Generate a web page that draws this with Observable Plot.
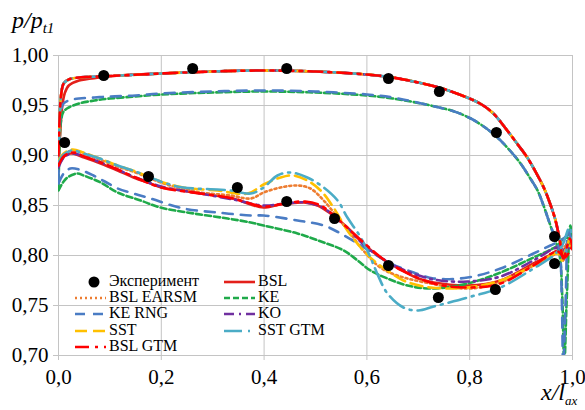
<!DOCTYPE html>
<html><head><meta charset="utf-8">
<script src="https://cdn.jsdelivr.net/npm/d3@7"></script>
<script src="https://cdn.jsdelivr.net/npm/@observablehq/plot@0.6"></script>
<style>
html,body{margin:0;padding:0;background:#fff;}
#wrap{position:relative;width:585px;height:410px;overflow:hidden;font-family:"Liberation Serif","DejaVu Serif",serif;}
#ytitle{position:absolute;left:12px;top:6px;font-style:italic;font-size:24px;line-height:28px;}
#ytitle sub{font-size:15px;vertical-align:-5px;}
#xtitle{position:absolute;left:541px;top:378px;font-style:italic;font-size:24px;line-height:28px;white-space:nowrap;}
#xtitle sub{font-size:13px;vertical-align:-5px;}
#legend{position:absolute;left:72px;top:273px;font-size:16px;line-height:16px;}
.li{position:absolute;white-space:nowrap;height:16px;}
.li svg{position:absolute;left:0;top:1px;}
.li span{position:absolute;left:37px;top:0;}
</style></head>
<body><div id="wrap"><div id="chart"></div>
<div id="ytitle">p/p<sub>t1</sub></div>
<div id="xtitle">x/l<sub>ax</sub></div>
<div id="legend"></div>
</div>
<script>
const xTicks = [0, 0.2, 0.4, 0.6, 0.8, 1.0];
const yTicks = [0.70, 0.75, 0.80, 0.85, 0.90, 0.95, 1.00];

const expX = [0.088, 0.261, 0.444, 0.642, 0.741, 0.852, 0.965, 0.012, 0.175, 0.348, 0.444, 0.537, 0.642, 0.739, 0.850, 0.965];
const expY = [0.980, 0.987, 0.987, 0.977, 0.964, 0.923, 0.819, 0.913, 0.879, 0.868, 0.854, 0.837, 0.790, 0.758, 0.766, 0.792];

const upperCommon = [[0,0.900],[0.002,0.935],[0.005,0.960],[0.010,0.972],[0.020,0.976],[0.040,0.978],[0.080,0.979],[0.120,0.980],[0.200,0.982],[0.300,0.984],[0.400,0.985],[0.500,0.984],[0.600,0.981],[0.650,0.978],[0.700,0.973],[0.740,0.968],[0.780,0.961],[0.820,0.952],[0.846,0.942],[0.873,0.925],[0.895,0.910],[0.912,0.898],[0.930,0.882],[0.944,0.868],[0.957,0.851],[0.967,0.835],[0.975,0.816],[0.982,0.797],[0.990,0.810],[0.995,0.817],[1.000,0.808]];
const bslUpper = [[0,0.888],[0.003,0.920],[0.007,0.948],[0.012,0.962],[0.020,0.970],[0.040,0.975],[0.080,0.978],[0.120,0.980],[0.200,0.982],[0.300,0.984],[0.400,0.985],[0.500,0.984],[0.600,0.981],[0.650,0.978],[0.700,0.973],[0.740,0.968],[0.780,0.961],[0.820,0.952],[0.846,0.942],[0.873,0.925],[0.895,0.910],[0.912,0.898],[0.930,0.882],[0.944,0.868],[0.957,0.851],[0.967,0.835],[0.975,0.816],[0.982,0.795],[0.990,0.810],[0.995,0.815],[1.000,0.806]];
const keUpper = [[0,0.866],[0.002,0.910],[0.005,0.935],[0.010,0.944],[0.020,0.948],[0.040,0.952],[0.070,0.955],[0.100,0.957],[0.150,0.959],[0.200,0.961],[0.300,0.963],[0.400,0.964],[0.500,0.963],[0.600,0.960],[0.650,0.957],[0.724,0.950],[0.770,0.944],[0.802,0.937],[0.830,0.928],[0.854,0.918],[0.880,0.904],[0.899,0.892],[0.918,0.877],[0.932,0.865],[0.945,0.848],[0.955,0.833],[0.965,0.818],[0.975,0.800],[0.980,0.760],[0.984,0.690],[0.989,0.760],[0.996,0.830],[1.000,0.815]];
const kerngUpper = [[0,0.875],[0.002,0.920],[0.005,0.945],[0.010,0.952],[0.020,0.955],[0.040,0.957],[0.070,0.958],[0.100,0.959],[0.150,0.960],[0.200,0.962],[0.300,0.964],[0.400,0.965],[0.500,0.964],[0.600,0.961],[0.650,0.958],[0.724,0.950],[0.770,0.944],[0.802,0.937],[0.830,0.928],[0.854,0.918],[0.880,0.904],[0.899,0.892],[0.918,0.877],[0.932,0.865],[0.945,0.848],[0.955,0.833],[0.963,0.822],[0.975,0.802],[0.979,0.760],[0.982,0.690],[0.987,0.760],[0.992,0.825],[0.998,0.815]];

const bslLower = [[0,0.890],[0.008,0.897],[0.015,0.901],[0.027,0.902],[0.050,0.898],[0.082,0.892],[0.115,0.885],[0.146,0.878],[0.179,0.872],[0.200,0.868],[0.240,0.865],[0.276,0.862],[0.340,0.857],[0.374,0.851],[0.399,0.848],[0.432,0.851],[0.477,0.853],[0.504,0.850],[0.529,0.842],[0.562,0.828],[0.593,0.812],[0.626,0.798],[0.665,0.786],[0.700,0.777],[0.730,0.773],[0.796,0.770],[0.860,0.775],[0.924,0.792],[0.955,0.800],[0.971,0.805],[0.980,0.800],[0.990,0.812],[1.000,0.808]];
const earsmLower = [[0,0.894],[0.010,0.901],[0.027,0.905],[0.049,0.902],[0.080,0.896],[0.115,0.889],[0.150,0.883],[0.179,0.877],[0.210,0.871],[0.243,0.867],[0.276,0.863],[0.335,0.860],[0.374,0.857],[0.399,0.863],[0.432,0.868],[0.465,0.870],[0.490,0.867],[0.516,0.855],[0.543,0.838],[0.568,0.822],[0.593,0.805],[0.626,0.788],[0.659,0.780],[0.724,0.772],[0.796,0.767],[0.860,0.773],[0.924,0.790],[0.971,0.803],[0.990,0.810],[1.000,0.808]];
const keLower = [[0,0.865],[0.010,0.874],[0.020,0.879],[0.037,0.882],[0.049,0.880],[0.082,0.873],[0.115,0.863],[0.160,0.855],[0.198,0.848],[0.263,0.842],[0.329,0.837],[0.374,0.833],[0.399,0.830],[0.465,0.822],[0.516,0.813],[0.555,0.805],[0.582,0.795],[0.607,0.785],[0.640,0.777],[0.679,0.770],[0.724,0.767],[0.796,0.772],[0.860,0.783],[0.924,0.798],[0.971,0.810],[0.985,0.818],[1.000,0.815]];
const kerngLower = [[0,0.872],[0.010,0.882],[0.023,0.887],[0.040,0.886],[0.068,0.880],[0.090,0.874],[0.115,0.867],[0.146,0.862],[0.179,0.857],[0.243,0.847],[0.309,0.843],[0.374,0.840],[0.399,0.840],[0.465,0.835],[0.516,0.830],[0.549,0.822],[0.582,0.812],[0.613,0.802],[0.646,0.792],[0.691,0.783],[0.730,0.777],[0.796,0.778],[0.860,0.787],[0.924,0.802],[0.957,0.810],[0.977,0.815],[0.990,0.820]];
const koLower = [[0,0.888],[0.010,0.898],[0.027,0.902],[0.050,0.899],[0.082,0.893],[0.115,0.886],[0.150,0.878],[0.200,0.869],[0.276,0.862],[0.340,0.856],[0.399,0.850],[0.440,0.852],[0.480,0.853],[0.510,0.849],[0.540,0.838],[0.570,0.823],[0.600,0.808],[0.630,0.797],[0.665,0.787],[0.730,0.776],[0.796,0.774],[0.860,0.779],[0.924,0.795],[0.971,0.808],[0.985,0.805],[1.000,0.812]];
const sstLower = [[0,0.895],[0.010,0.902],[0.027,0.906],[0.049,0.903],[0.080,0.897],[0.115,0.890],[0.150,0.884],[0.179,0.878],[0.210,0.872],[0.243,0.868],[0.309,0.865],[0.368,0.862],[0.399,0.871],[0.432,0.878],[0.457,0.880],[0.484,0.875],[0.510,0.865],[0.535,0.848],[0.562,0.825],[0.588,0.808],[0.613,0.795],[0.640,0.785],[0.671,0.775],[0.724,0.768],[0.796,0.768],[0.860,0.775],[0.924,0.790],[0.971,0.802],[0.980,0.795],[0.990,0.810],[1.000,0.808]];
const sstgtmLower = [[0,0.893],[0.010,0.901],[0.027,0.905],[0.049,0.902],[0.080,0.897],[0.115,0.890],[0.150,0.884],[0.179,0.878],[0.210,0.872],[0.243,0.868],[0.309,0.866],[0.335,0.865],[0.374,0.862],[0.399,0.868],[0.426,0.880],[0.451,0.883],[0.484,0.878],[0.516,0.868],[0.543,0.855],[0.562,0.838],[0.588,0.818],[0.607,0.798],[0.620,0.782],[0.640,0.762],[0.671,0.748],[0.700,0.745],[0.730,0.749],[0.796,0.758],[0.860,0.768],[0.924,0.787],[0.963,0.800],[0.980,0.810],[0.994,0.828],[1.000,0.815]];
const bslgtmLower = [[0,0.890],[0.010,0.899],[0.027,0.903],[0.050,0.899],[0.082,0.893],[0.115,0.886],[0.150,0.878],[0.200,0.868],[0.276,0.862],[0.340,0.857],[0.399,0.849],[0.440,0.852],[0.480,0.854],[0.510,0.850],[0.540,0.838],[0.570,0.824],[0.600,0.810],[0.630,0.797],[0.665,0.786],[0.730,0.772],[0.796,0.768],[0.860,0.772],[0.924,0.790],[0.971,0.804],[0.985,0.798],[1.000,0.810]];

const seriesNames = ["BSL", "BSL EARSM", "KE", "KE RNG", "KO", "SST", "SST GTM", "BSL GTM"];
const seriesColors = ["#e3201b", "#ed7d31", "#1faa4a", "#4a7cc4", "#7030a0", "#ffc000", "#4bacc6", "#ff0000"];
const seriesDash = [null, "2,3", "6,3", "10,8", "10,5,2,5", "12,6", "18,6,2,6", "14,6,3,6"];
const seriesUpper = [bslUpper, upperCommon, keUpper, kerngUpper, upperCommon, upperCommon, upperCommon, upperCommon];
const seriesLower = [bslLower, earsmLower, keLower, kerngLower, koLower, sstLower, sstgtmLower, bslgtmLower];

const fmt = (d, n) => d.toFixed(n).replace(".", ",");
const grid = "#c4c4c4";
const serif = '"Liberation Serif","DejaVu Serif",serif';

const lineMarks = seriesNames.map((name, i) => {
  const rows = seriesUpper[i].map(([x, y]) => ({x, y, side: "u"}))
    .concat(seriesLower[i].map(([x, y]) => ({x, y, side: "l"})));
  return Plot.line(rows, {x: "x", y: "y", z: "side", stroke: seriesColors[i], strokeWidth: 2.6,
    strokeDasharray: seriesDash[i] ?? undefined, curve: "catmull-rom", clip: true});
});

const expRows = expX.map((x, i) => ({x, y: expY[i]}));

const chart = Plot.plot({
  width: 585, height: 410,
  marginLeft: 58, marginRight: 13, marginTop: 55, marginBottom: 55,
  style: {fontFamily: serif, fontSize: "21px", color: "#000", background: "#fff", overflow: "visible"},
  x: {domain: [0, 1]},
  y: {domain: [0.70, 1.00]},
  marks: [
    Plot.gridX(xTicks, {stroke: grid, strokeOpacity: 1}),
    Plot.gridY(yTicks, {stroke: grid, strokeOpacity: 1}),
    Plot.axisX(xTicks, {tickSize: 5, tickPadding: 9, stroke: grid, fill: "#000", tickFormat: d => fmt(d, 1), label: null, fontFamily: serif}),
    Plot.axisY(yTicks, {tickSize: 5, tickPadding: 5, stroke: grid, fill: "#000", tickFormat: d => fmt(d, 2), label: null, fontFamily: serif}),
    ...lineMarks,
    Plot.dot(expRows, {x: "x", y: "y", r: 5.5, fill: "#000", stroke: "none"})
  ]
});
document.getElementById("chart").appendChild(chart);

// legend
const legendItems = [{name: "Эксперимент", dot: true}].concat(seriesNames.map((n, i) => ({name: n, i})));
const leg = document.getElementById("legend");
legendItems.forEach((it, k) => {
  const col = k % 2, row = Math.floor(k / 2);
  const div = document.createElement("div");
  div.className = "li";
  div.style.left = (col * 149) + "px";
  div.style.top = (row * 16.2) + "px";
  const svg = d3.create("svg").attr("width", 34).attr("height", 14);
  if (it.dot) {
    svg.append("circle").attr("cx", 22).attr("cy", 8).attr("r", 5.5).attr("fill", "#000");
  } else {
    svg.append("line").attr("x1", 3).attr("x2", 35).attr("y1", 8).attr("y2", 8)
      .attr("stroke", seriesColors[it.i]).attr("stroke-width", 2.6)
      .attr("stroke-dasharray", seriesDash[it.i]);
  }
  div.appendChild(svg.node());
  const sp = document.createElement("span");
  sp.textContent = it.name;
  div.appendChild(sp);
  leg.appendChild(div);
});
</script></body></html>
